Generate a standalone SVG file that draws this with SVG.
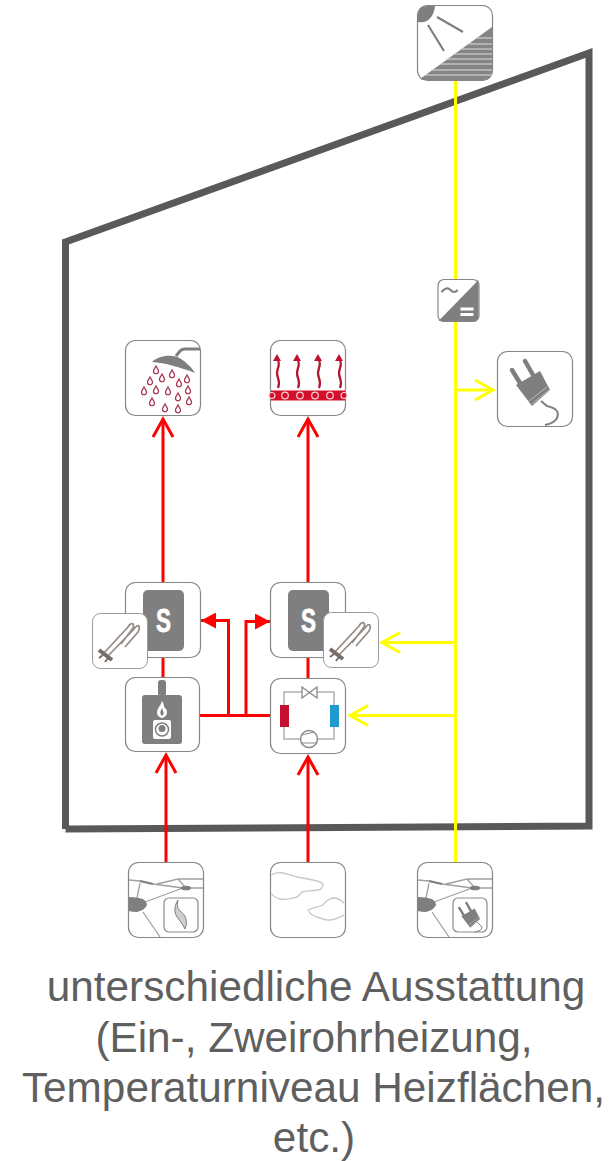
<svg xmlns="http://www.w3.org/2000/svg" xmlns:xlink="http://www.w3.org/1999/xlink" width="612" height="1161" viewBox="0 0 612 1161">
<style>
.box{fill:#fff;stroke:#858585;stroke-width:1.2}
.red{fill:none;stroke:#f00;stroke-width:3}
.yel{fill:none;stroke:#ff0;stroke-width:3}
.ic{fill:#7f7f7f}
.net{fill:none;stroke:#a0a0a0;stroke-width:1.300}
.cloud{fill:none;stroke:#c8c8c8;stroke-width:1.300}
.txt{font-family:"Liberation Sans",Arial,sans-serif;font-size:42.300px;fill:#5f5f5f;text-anchor:middle}
</style>
<defs>
<marker id="open-r" viewBox="0 0 24 24" refX="19" refY="12" markerWidth="24" markerHeight="24" markerUnits="userSpaceOnUse" orient="auto"><path d="M1 2L19 12L1 22" fill="none" stroke="#f00" stroke-width="3"/></marker>
<marker id="open-y" viewBox="0 0 24 24" refX="19" refY="12" markerWidth="24" markerHeight="24" markerUnits="userSpaceOnUse" orient="auto"><path d="M1 2L19 12L1 22" fill="none" stroke="#ff0" stroke-width="3"/></marker>
<marker id="solid-r" viewBox="0 0 15 16" refX="15" refY="8" markerWidth="15" markerHeight="16" markerUnits="userSpaceOnUse" orient="auto"><path d="M0 0L15 8L0 16Z" fill="#f00"/></marker>
<g id="tank"><rect x="18" y="8" width="41" height="61" rx="5" class="ic"/><text x="38.500" y="50" font-family="'Liberation Sans',Arial,sans-serif" font-weight="bold" font-size="33" fill="#fff" stroke="#fff" stroke-width=".8" text-anchor="middle" textLength="15" lengthAdjust="spacingAndGlyphs">S</text></g>
<g id="heater"><rect x=".5" y=".5" width="55" height="55" rx="8" fill="#fff" stroke="#999" stroke-width="1"/>
<path d="M11 41L36 14C39 9 43 10 41 15L29 31M15 44L42 16C46 10 49 13 46 19L33 34" fill="none" stroke="#978d88" stroke-width="1.800"/>
<path d="M7 37L20 47" stroke="#756d68" stroke-width="4"/><path d="M11 42L7 45M16 45L13 49" stroke="#756d68" stroke-width="2"/></g>
<g id="grid"><path class="net" d="M1 18L12 19L25 22L55 26M29 22L50 17L58 26M50 17L75 17M59 26L75 26M12 21L9 36M17 40L55 26M15 50L32 75"/><path d="M12 19L25 22" stroke="#808080" stroke-width="1.800"/><path d="M1 35Q9 35 15 37Q19 40 19 43Q17 48 9 50Q4 50 1 49Z" class="ic"/><ellipse cx="58" cy="26" rx="5" ry="2.300" class="ic"/><rect x="36" y="36" width="34" height="34" rx="5" fill="#fff" stroke="#8a8a8a" stroke-width="1.200"/></g>
<g id="plug"><path d="M15 19L23 32M28 10L36 24" stroke="#7f7f7f" stroke-width="4.500" stroke-linecap="round"/><path d="M19 34L43 20L53 39L35 55Z" class="ic"/><path d="M32 50L50 36M35 53L52 39" stroke="#ccc" stroke-width=".8"/></g>
<path id="drop" d="M0 -4C1.200 -1.500 2.500 -.5 2.500 1.200A2.500 2.500 0 0 1 -2.500 1.200C-2.500 -.5 -1.200 -1.500 0 -4Z" fill="#fff" stroke="#a83b55" stroke-width="1.300"/>
</defs>

<path id="building" d="M65.500 829V242L589 53V826L65.500 829" fill="none" stroke="#595959" stroke-width="7"/>

<g id="connectors">
<path class="yel" d="M455.500 81V862"/>
<path class="yel" d="M455.500 390H493" marker-end="url(#open-y)"/>
<path class="yel" d="M455.500 642.500H382" marker-end="url(#open-y)"/>
<path class="yel" d="M455.500 715.500H350" marker-end="url(#open-y)"/>
<path class="red" d="M163 582V419" marker-end="url(#open-r)"/>
<path class="red" d="M308 582V419" marker-end="url(#open-r)"/>
<path class="red" d="M163 658V677M308 658V678"/>
<path class="red" d="M166 862V755" marker-end="url(#open-r)"/>
<path class="red" d="M308 862V757" marker-end="url(#open-r)"/>
<path class="red" d="M200 715.500H270"/>
<path class="red" d="M228.500 715.500V620.500H201" marker-end="url(#solid-r)"/>
<path class="red" d="M246 715.500V621.500H270" marker-end="url(#solid-r)"/>
</g>

<g id="solar" transform="translate(417 5)">
<rect x=".5" y=".5" width="75" height="75" rx="10" class="box"/>
<path d="M3 74L75 22V66Q75 75 66 75H6Z" fill="#858585"/>
<path d="M59 33H75M52 39H75M43 44H75M36 49H75M29 54H75M22 59H75M14 65H75M8 70H75" stroke="#ddd" stroke-width="1"/>
<path d="M1 17V10Q1 1 10 1H18C17 12 10 19 1 17Z" fill="#7f7f7f"/>
<path d="M20 12L46 27M11 20L27 46" stroke="#7f7f7f" stroke-width="2.200"/>
</g>

<g id="inverter" transform="translate(437.500 279)">
<rect x=".5" y=".5" width="41" height="42" rx="6" class="box"/>
<path d="M1 42L41 1V37Q41 42 36 42Z" class="ic"/>
<path d="M4 13Q9 7 13 11T20 11" fill="none" stroke="#7f7f7f" stroke-width="2.200"/>
<path d="M23 30H36M23 35.500H36" stroke="#fff" stroke-width="2.800"/>
</g>

<g id="socket" transform="translate(497 351)">
<rect x=".5" y=".5" width="75" height="75" rx="10" class="box"/>
<use xlink:href="#plug" href="#plug"/>
<path d="M44 50L50 55C58 57 63 60 60 67C58 71 53 73 48 74" fill="none" stroke="#7f7f7f" stroke-width="2"/>
</g>

<g id="shower" transform="translate(125 340)">
<rect x=".5" y=".5" width="75" height="75" rx="10" class="box"/>
<path d="M27 22C32 16 48 13 56 19C62 23 68 29 70 33C55 27 40 23 27 22Z" class="ic"/>
<path d="M51 16L55 11Q57 9 60 9H75" fill="none" stroke="#7f7f7f" stroke-width="3"/>
<use xlink:href="#drop" href="#drop" x="31" y="30"/><use xlink:href="#drop" href="#drop" x="47" y="34"/><use xlink:href="#drop" href="#drop" x="37" y="38"/><use xlink:href="#drop" href="#drop" x="25" y="41"/><use xlink:href="#drop" href="#drop" x="62" y="39"/><use xlink:href="#drop" href="#drop" x="54" y="43"/><use xlink:href="#drop" href="#drop" x="19" y="51"/><use xlink:href="#drop" href="#drop" x="31" y="50"/><use xlink:href="#drop" href="#drop" x="43" y="51"/><use xlink:href="#drop" href="#drop" x="63" y="50"/><use xlink:href="#drop" href="#drop" x="53" y="57"/><use xlink:href="#drop" href="#drop" x="27" y="62"/><use xlink:href="#drop" href="#drop" x="64" y="61"/><use xlink:href="#drop" href="#drop" x="40" y="68"/><use xlink:href="#drop" href="#drop" x="53" y="69"/>
</g>

<g id="radiator" transform="translate(270 340)">
<rect x=".5" y=".5" width="75" height="75" rx="10" class="box"/>
<rect x="1" y="50.500" width="74" height="10" fill="#d40f2b"/>
<g fill="#d40f2b" stroke="#f3d0d5" stroke-width="1.200"><circle cx="2" cy="55.500" r="3"/><circle cx="15" cy="55.500" r="3.300"/><circle cx="30" cy="55.500" r="3.300"/><circle cx="45" cy="55.500" r="3.300"/><circle cx="60" cy="55.500" r="3.300"/><circle cx="74" cy="55.500" r="3"/></g>
<path d="M7 18Q10 23 8 28T8 38T8 48M27 18Q30 23 28 28T28 38T28 48M48 18Q51 23 49 28T49 38T49 48M69 18Q72 23 70 28T70 38T70 48" fill="none" stroke="#b4162f" stroke-width="2.200"/>
<path d="M7 14L3 21H11ZM27 14L23 21H31ZM48 14L44 21H52ZM69 14L65 21H73Z" fill="#c0122d"/>
</g>

<g id="storage-left" transform="translate(125 582)">
<rect x=".5" y=".5" width="75" height="75" rx="10" class="box"/>
<use xlink:href="#tank" href="#tank"/>
</g>
<g id="heater-left"><use xlink:href="#heater" href="#heater" x="92" y="613"/></g>

<g id="storage-right" transform="translate(270 582)">
<rect x=".5" y=".5" width="75" height="75" rx="10" class="box"/>
<use xlink:href="#tank" href="#tank"/>
</g>
<g id="heater-right"><use xlink:href="#heater" href="#heater" x="323" y="612"/></g>

<g id="boiler" transform="translate(125 677)">
<rect x=".5" y=".5" width="74" height="74" rx="10" class="box"/>
<rect x="33" y="3" width="8" height="16" rx="3" class="ic"/>
<rect x="17" y="18" width="40" height="49" rx="3" class="ic"/>
<path d="M37 24C40 28 38 30 41 32C43 35 42 40 37 41C32 40 31 35 33 32C34 29 36 28 37 24Z" fill="#fff"/>
<path d="M37 31C38 34 39 35 38.500 37C38 39 36 39 35.500 37C35 35 36 33 37 31Z" class="ic"/>
<rect x="28" y="43" width="18" height="19" rx="2" fill="#fff"/>
<circle cx="37" cy="52.500" r="6.500" fill="none" stroke="#7f7f7f" stroke-width="1.500"/><circle cx="37" cy="51.500" r="3.500" class="ic"/>
</g>

<g id="heatpump" transform="translate(270 678)">
<rect x=".5" y=".5" width="75" height="75" rx="10" class="box"/>
<path d="M14 27V14H32M47 14H64V27M64 49V61H47M31 61H14V49" fill="none" stroke="#b0b0b0" stroke-width="1.500"/>
<path d="M32 9L47 20V9L32 20Z" fill="#fff" stroke="#8a8a8a" stroke-width="1.300"/>
<rect x="10" y="27" width="9" height="22" fill="#c40f2f"/>
<rect x="60" y="27" width="9" height="22" fill="#1f9ad0"/>
<circle cx="39" cy="61" r="8.500" fill="#fff" stroke="#8a8a8a" stroke-width="1.500"/><path d="M32 57L44 54M32 65L46 65" stroke="#8a8a8a" stroke-width="1"/>
</g>

<g id="source-gas" transform="translate(128 862)">
<rect x=".5" y=".5" width="75" height="75" rx="10" class="box"/>
<use xlink:href="#grid" href="#grid"/>
<path d="M50 38C46 44 46 50 49 55C53 60 55 63 57 67C60 60 58 53 52 49C49 46 49 42 50 38Z" fill="#d0d0d0" stroke="#7f7f7f" stroke-width="1"/>
</g>

<g id="source-air" transform="translate(270 862)">
<rect x=".5" y=".5" width="75" height="75" rx="10" class="box"/>
<path class="cloud" d="M1 13C5 11 9 10 13 11C18 12 23 14 27 15C33 16 39 17 43 18C48 19 53 20 53 23C53 26 50 28 47 28C42 29 36 29 32 30C29 34 26 36 23 36C18 37 14 38 10 37C6 36 3 34 1 31"/>
<path class="cloud" d="M74 41C71 38 67 36 63 36C58 37 55 40 53 43C48 45 42 46 38 48C40 52 43 54 47 55C51 56 56 59 60 58C65 58 70 55 74 53"/>
</g>

<g id="source-electric" transform="translate(417 862)">
<rect x=".5" y=".5" width="75" height="75" rx="10" class="box"/>
<use xlink:href="#grid" href="#grid"/>
<use xlink:href="#plug" href="#plug" transform="translate(34 35.500) scale(.55)"/>
<path d="M60 60L65 65C65 68 62 69 58 70" fill="none" stroke="#7f7f7f" stroke-width="1"/>
</g>

<g id="caption">
<text class="txt" x="316" y="1001">unterschiedliche Ausstattung</text>
<text class="txt" x="314" y="1052">(Ein-, Zweirohrheizung,</text>
<text class="txt" x="313.500" y="1102">Temperaturniveau Heizflächen,</text>
<text class="txt" x="314" y="1152">etc.)</text>
</g>
</svg>
